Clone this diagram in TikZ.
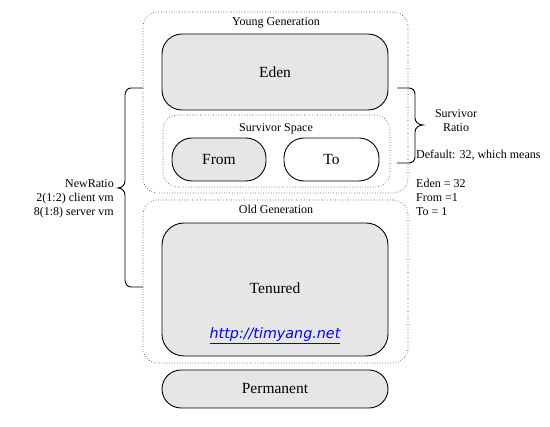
\documentclass[tikz,border=0pt]{standalone}
\usepackage{fontspec}
\setmainfont{Liberation Serif}
\newfontfamily\linkfont{DejaVu Sans}
\begin{document}
\begin{tikzpicture}[x=1pt,y=-1pt,
  solidbox/.style={draw=black,line width=0.9pt,fill=boxgray,inner sep=0pt},
  dotbox/.style={draw=black!80,dotted,line width=0.6pt,inner sep=0pt},
  bigtext/.style={inner sep=0pt,font=\fontsize{15.5}{18}\selectfont},
  smalltext/.style={inner sep=0pt,font=\fontsize{12}{14}\selectfont},
  bracestyle/.style={draw=black,line width=0.9pt}]
\definecolor{boxgray}{HTML}{E6E6E6}
\definecolor{linkblue}{HTML}{0000FF}
\useasboundingbox (0,0) rectangle (550,427);
% containers
\node[dotbox,rounded corners=15pt,minimum width=265pt,minimum height=181pt] (young) at (275.5,102.5) {};
\node[dotbox,rounded corners=15pt,minimum width=265pt,minimum height=163pt] (old) at (275.5,281.5) {};
\node[smalltext] (younglbl) at (276,23) {Young Generation};
\node[smalltext] (oldlbl) at (276,209) {Old Generation};
% eden
\node[solidbox,rounded corners=20pt,minimum width=226pt,minimum height=76pt] (eden) at (275,72) {};
\node[bigtext] (edenlbl) at (275,72) {Eden};
% survivor space
\node[dotbox,rounded corners=15pt,minimum width=227pt,minimum height=72pt] (surv) at (276.5,151) {};
\node[smalltext] (survlbl) at (276,129) {Survivor Space};
\node[solidbox,rounded corners=20pt,minimum width=94pt,minimum height=43pt] (from) at (219,159.5) {};
\node[bigtext] (fromlbl) at (219,159.5) {From};
\node[solidbox,fill=white,rounded corners=20pt,minimum width=95pt,minimum height=43pt] (to) at (331.5,159.5) {};
\node[bigtext] (tolbl) at (331.5,159.5) {To};
% tenured
\node[solidbox,rounded corners=22pt,minimum width=226pt,minimum height=133pt] (tenured) at (275,289.5) {};
\node[bigtext] (tenlbl) at (275,288) {Tenured};
\node[inner sep=0pt,font=\linkfont\itshape\fontsize{14.3}{16}\selectfont,text=linkblue] (link) at (275,336) {\underline{http://timyang.net}};
% permanent
\node[solidbox,rounded corners=19pt,minimum width=226pt,minimum height=38pt] (perm) at (275,389) {};
\node[bigtext] (permlbl) at (275,389) {Permanent};
% left brace
\coordinate (lbtop) at (143,88);
\coordinate (lbbot) at (143,287);
\coordinate (lbtip) at (118,188);
\draw[bracestyle] (lbtop) -- (131,88) to[out=180,in=90] (125,95) -- (125,181) to[out=270,in=0] (lbtip)
  to[out=0,in=90] (125,195) -- (125,280) to[out=270,in=180] (131,287) -- (lbbot);
\node[smalltext,align=right,anchor=east] (newratio) at (114,199) {NewRatio\\2(1:2) client vm\\8(1:8) server vm};
% right brace
\coordinate (rbtop) at (397,88);
\coordinate (rbbot) at (397,163);
\coordinate (rbtip) at (423,125);
\draw[bracestyle] (rbtop) -- (409,88) to[out=0,in=90] (415,94) -- (415,118) to[out=270,in=180] (rbtip)
  to[out=180,in=90] (415,132) -- (415,157) to[out=270,in=0] (409,163) -- (rbbot);
\node[smalltext,align=center] (survratio) at (456,121) {Survivor\\Ratio};
\node[smalltext,anchor=west] (default) at (416,155) {Default: 32, which means};
\node[smalltext,align=left,anchor=west] (ratios) at (416,197) {Eden = 32\\From =1\\To = 1};
\end{tikzpicture}
\end{document}
